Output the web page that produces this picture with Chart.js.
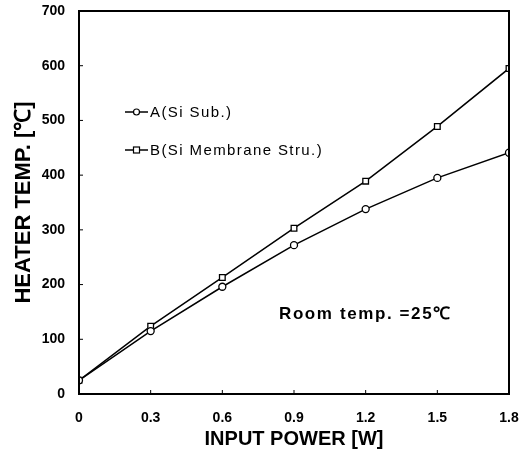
<!DOCTYPE html>
<html><head><meta charset="utf-8">
<script src="https://cdn.jsdelivr.net/npm/chart.js@4/dist/chart.umd.min.js"></script>
<style>html,body{margin:0;padding:0;background:#fff}#wrap{width:526px;height:454px}</style>
</head><body><div id="wrap"><canvas id="c" width="526" height="454"></canvas></div>
<script>
const xValues = [0, 0.3, 0.6, 0.9, 1.2, 1.5, 1.8];
const seriesA = [25, 115, 196, 272, 338, 395, 441];
const seriesB = [25, 124, 213, 303, 389, 489, 595];
const seriesNames = ['A(Si Sub.)', 'B(Si Membrane Stru.)'];
const xTickLabels = ['0', '0.3', '0.6', '0.9', '1.2', '1.5', '1.8'];
const yTickLabels = ['0', '100', '200', '300', '400', '500', '600', '700'];
const xTitle = 'INPUT POWER [W]';
const yTitle = 'HEATER TEMP. [\u2103]';
const noteText = 'Room temp. =25\u2103';

const FONT = '"Liberation Sans", Arial, sans-serif';

const framePlugin = {
  id: 'frame',
  afterDatasetsDraw(chart) {
    const {ctx, chartArea: a, scales} = chart;
    ctx.save();
    ctx.strokeStyle = '#000';
    ctx.lineWidth = 2;
    ctx.strokeRect(a.left, a.top, a.right - a.left, a.bottom - a.top);
    ctx.lineWidth = 1;
    xValues.forEach(v => {
      const px = scales.x.getPixelForValue(v);
      ctx.beginPath(); ctx.moveTo(px, a.bottom); ctx.lineTo(px, a.bottom - 4); ctx.stroke();
    });
    yTickLabels.forEach(t => {
      const py = scales.y.getPixelForValue(Number(t));
      ctx.beginPath(); ctx.moveTo(a.left, py); ctx.lineTo(a.left + 4, py); ctx.stroke();
    });
    // legend
    const ds = chart.data.datasets;
    ds.forEach((d, i) => {
      const lx = a.left + 46, ly = a.top + 101 + i * 38;
      ctx.lineWidth = 1.5;
      ctx.beginPath(); ctx.moveTo(lx, ly); ctx.lineTo(lx + 23, ly); ctx.stroke();
      ctx.lineWidth = 1.2;
      ctx.fillStyle = '#fff';
      if (d.pointStyle === 'rect') {
        ctx.fillRect(lx + 8.5, ly - 3, 6, 6); ctx.strokeRect(lx + 8.5, ly - 3, 6, 6);
      } else {
        ctx.beginPath(); ctx.arc(lx + 11.5, ly, 3, 0, Math.PI * 2); ctx.fill(); ctx.stroke();
      }
      ctx.fillStyle = '#000';
      ctx.font = '15px ' + FONT;
      ctx.letterSpacing = '1.4px';
      ctx.textBaseline = 'middle';
      ctx.fillText(d.label, lx + 25, ly + 1);
    });
    ctx.font = 'bold 17px ' + FONT;
    ctx.letterSpacing = '1.6px';
    ctx.textBaseline = 'middle';
    ctx.fillText(noteText, a.left + 200, a.top + 303);
    ctx.restore();
  }
};

new Chart(document.getElementById('c'), {
  type: 'line',
  data: {
    datasets: [
      { label: seriesNames[0], data: xValues.map((x, i) => ({x, y: seriesA[i]})), borderColor: '#000', borderWidth: 1.5,
        pointStyle: 'circle', pointRadius: 3.5, pointBackgroundColor: '#fff', pointBorderColor: '#000', pointBorderWidth: 1.3, tension: 0 },
      { label: seriesNames[1], data: xValues.map((x, i) => ({x, y: seriesB[i]})), borderColor: '#000', borderWidth: 1.5,
        pointStyle: 'rect', pointRadius: 4, pointBackgroundColor: '#fff', pointBorderColor: '#000', pointBorderWidth: 1.3, tension: 0 }
    ]
  },
  options: {
    responsive: false, animation: false,
    layout: { padding: { left: 10, right: 17, top: 11, bottom: 0 } },
    plugins: { legend: { display: false }, tooltip: { enabled: false } },
    scales: {
      x: { type: 'linear', min: 0, max: 1.8,
        afterBuildTicks: s => { s.ticks = xValues.map(v => ({value: v})); },
        afterFit: s => { s.height = 60; s.paddingLeft = 0; s.paddingRight = 0; },
        ticks: { color: '#000', font: { family: FONT, size: 14, weight: 'bold' }, padding: 16, maxRotation: 0,
          callback: (v, i) => xTickLabels[i] },
        grid: { display: false, drawTicks: false }, border: { display: false },
        title: { display: true, text: xTitle, color: '#000', font: { family: FONT, size: 20, weight: 'bold' }, padding: { top: 0, bottom: 3 } } },
      y: { type: 'linear', min: 0, max: 700,
        afterBuildTicks: s => { s.ticks = yTickLabels.map(v => ({value: Number(v)})); },
        afterFit: s => { s.width = 69; s.paddingTop = 0; s.paddingBottom = 0; },
        ticks: { color: '#000', font: { family: FONT, size: 14, weight: 'bold' }, padding: 14,
          callback: (v, i) => yTickLabels[i] },
        grid: { display: false, drawTicks: false }, border: { display: false },
        title: { display: true, text: yTitle, color: '#000', font: { family: FONT, size: 22, weight: 'bold' }, padding: { top: 1, bottom: 0 } } }
    }
  },
  plugins: [framePlugin]
});
</script></body></html>
